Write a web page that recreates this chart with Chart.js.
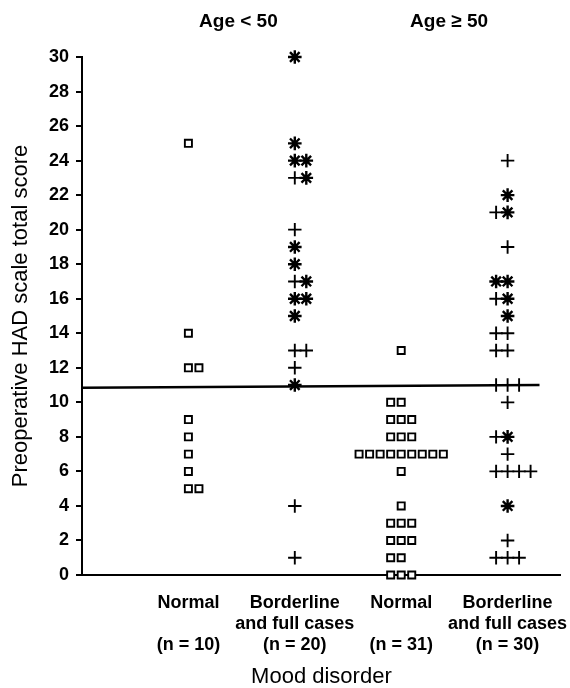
<!DOCTYPE html>
<html>
<head>
<meta charset="utf-8">
<script src="https://cdn.jsdelivr.net/npm/chart.js@4/dist/chart.umd.min.js"></script>
<style>
  html, body { margin: 0; padding: 0; background: #fff; }
</style>
</head>
<body>
<canvas id="chart" width="570" height="688"></canvas>
<script>
// column captions under the axis, and the two age groups on top
const groupLabels = [
  ["Normal", "", "(n = 10)"],
  ["Borderline", "and full cases", "(n = 20)"],
  ["Normal", "", "(n = 31)"],
  ["Borderline", "and full cases", "(n = 30)"]
];
const ageLabels = ["Age < 50", "Age \u2265 50"];

// HAD scores (plus = "+", star = asterisk)
const normalYoung = [25, 14, 12, 12, 9, 8, 7, 6, 5, 5];
const borderYoungPlus = [23, 20, 17, 13, 13, 12, 4, 1];
const borderYoungStar = [30, 25, 24, 24, 23, 19, 18, 17, 16, 16, 15, 11];
const normalOld = [13, 10, 10, 9, 9, 9, 8, 8, 8, 7, 7, 7, 7, 7, 7, 7, 7, 7, 6, 4, 3, 3, 3, 2, 2, 2, 1, 1, 0, 0, 0];
const borderOldPlus = [24, 21, 19, 16, 14, 14, 13, 13, 11, 11, 11, 10, 8, 7, 6, 6, 6, 6, 2, 1, 1, 1];
const borderOldStar = [22, 21, 17, 17, 16, 15, 8, 4];

// cut-off line: score at its left and right end, and its x extent
const cutoffScore = [10.85, 11.0];
const cutoffSpan = [0, 4.3];

// put equal scores of one column side by side
function spread(column, sets, step, side) {
  const byValue = {};
  sets.forEach((vals, s) => vals.forEach(v => (byValue[v] = byValue[v] || []).push(s)));
  const out = sets.map(() => []);
  Object.keys(byValue).forEach(k => {
    const members = byValue[k].sort((a, b) => a - b);
    const n = members.length;
    let start = -Math.floor((n - 1) / 2);
    if (side === "left" && n === 2) start = -1;
    members.forEach((s, i) => out[s].push({ x: column + (start + i) * step, y: +k }));
  });
  return out;
}

const [nYoung] = spread(1, [normalYoung], 0.099, "right");
const [bYoungPlus, bYoungStar] = spread(2, [borderYoungPlus, borderYoungStar], 0.108, "right");
const [nOld] = spread(3, [normalOld], 0.099, "left");
const [bOldPlus, bOldStar] = spread(4, [borderOldPlus, borderOldStar], 0.108, "left");

const square = { pointStyle: "rect", pointRadius: 5, pointBorderWidth: 1.9, pointBorderColor: "#000", pointBackgroundColor: "#fff" };
const plus = { pointStyle: "cross", pointRadius: 6.7, pointBorderWidth: 1.9, pointBorderColor: "#000" };
const star = { pointStyle: "star", pointRadius: 6.8, pointBorderWidth: 2.4, pointBorderColor: "#000" };

const textPlugin = {
  id: "textPlugin",
  afterDraw(chart) {
    const ctx = chart.ctx;
    const x = chart.scales.x;
    const area = chart.chartArea;
    ctx.save();
    ctx.fillStyle = "#000";
    ctx.textAlign = "center";
    ctx.textBaseline = "middle";

    ctx.font = 'bold 18px "Liberation Sans", Arial, sans-serif';
    groupLabels.forEach((lines, i) => {
      lines.forEach((t, j) => ctx.fillText(t, x.getPixelForValue(i + 1), area.bottom + 28 + j * 21));
    });

    ctx.font = 'bold 19px "Liberation Sans", Arial, sans-serif';
    ctx.fillText(ageLabels[0], x.getPixelForValue(1.47), 22);
    ctx.fillText(ageLabels[1], x.getPixelForValue(3.45), 22);

    ctx.font = '22px "Liberation Sans", Arial, sans-serif';
    ctx.fillText("Mood disorder", (area.left + area.right) / 2, 677);
    ctx.restore();
  }
};

new Chart(document.getElementById("chart"), {
  type: "scatter",
  plugins: [textPlugin],
  data: {
    datasets: [
      { label: "cutoff", showLine: true, pointRadius: 0, borderColor: "#000", borderWidth: 2.5,
        data: cutoffSpan.map((v, i) => ({ x: v, y: cutoffScore[i] })) },
      { label: "Normal, age < 50", data: nYoung, ...square },
      { label: "Borderline +, age < 50", data: bYoungPlus, ...plus },
      { label: "Borderline *, age < 50", data: bYoungStar, ...star },
      { label: "Normal, age >= 50", data: nOld, ...square },
      { label: "Borderline +, age >= 50", data: bOldPlus, ...plus },
      { label: "Borderline *, age >= 50", data: bOldStar, ...star }
    ]
  },
  options: {
    responsive: false,
    animation: false,
    events: [],
    clip: false,
    layout: { padding: { left: 0, right: 7, top: 57, bottom: 0 } },
    plugins: { legend: { display: false }, tooltip: { enabled: false } },
    scales: {
      x: {
        type: "linear",
        min: 0,
        max: 4.5,
        ticks: { display: false },
        grid: { drawOnChartArea: false, drawTicks: false },
        border: { display: true, color: "#000", width: 2 },
        afterFit: s => { s.height = 113; }
      },
      y: {
        min: 0,
        max: 30,
        ticks: {
          stepSize: 2,
          color: "#000",
          padding: 7,
          font: { family: '"Liberation Sans", Arial, sans-serif', size: 18, weight: "bold" }
        },
        grid: { drawOnChartArea: false, drawTicks: true, tickLength: 6, color: "#000", lineWidth: 2 },
        border: { display: true, color: "#000", width: 2 },
        title: {
          display: true,
          text: "Preoperative HAD scale total score",
          color: "#000",
          padding: { top: 8, bottom: 0 },
          font: { family: '"Liberation Sans", Arial, sans-serif', size: 22 }
        },
        afterFit: s => { s.width = 82; }
      }
    }
  }
});
</script>
</body>
</html>
